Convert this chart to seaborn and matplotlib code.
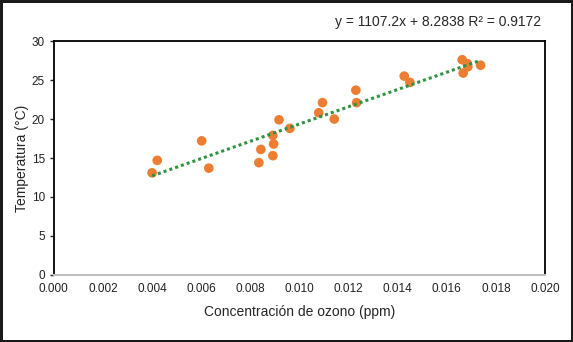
import numpy as np
import pandas as pd
import matplotlib
matplotlib.use("Agg")
import matplotlib.pyplot as plt
import seaborn as sns

# -- datos --
ozono = [0.00400, 0.00421, 0.00602, 0.00631, 0.00835, 0.00843, 0.00892, 0.00895,
         0.00892, 0.00917, 0.00961, 0.01079, 0.01094, 0.01142, 0.01230, 0.01233,
         0.01427, 0.01450, 0.01663, 0.01684, 0.01686, 0.01667, 0.01738]
temperatura = [13.1, 14.7, 17.2, 13.7, 14.4, 16.1, 15.3, 16.8,
               17.9, 19.9, 18.8, 20.8, 22.1, 20.0, 23.7, 22.1,
               25.5, 24.7, 27.6, 27.1, 26.7, 25.9, 26.9]

# coeficientes de la línea de tendencia (del propio gráfico)
pendiente = 1107.2
intercepto = 8.2838
r2 = 0.9172

x_ticks = [0.000, 0.002, 0.004, 0.006, 0.008, 0.010, 0.012, 0.014, 0.016, 0.018, 0.020]
y_ticks = [0, 5, 10, 15, 20, 25, 30]

df = pd.DataFrame({"ozono": ozono, "temp": temperatura})
x_lin = np.array([min(ozono), max(ozono)])
df_lin = pd.DataFrame({"ozono": x_lin, "temp": pendiente * x_lin + intercepto})

sns.set_style("white")
plt.rcParams['font.family'] = ['Liberation Sans', 'DejaVu Sans']

fig = plt.figure(figsize=(5.73, 3.42), dpi=100, edgecolor="#1a1a1a", linewidth=2.5)
ax = fig.add_axes([0.094, 0.196, 0.857, 0.684])

sns.lineplot(data=df_lin, x="ozono", y="temp", ax=ax, color="#2e9440",
             linestyle=(0, (1, 1)), linewidth=2.2, zorder=3)
sns.scatterplot(data=df, x="ozono", y="temp", ax=ax, color="#ed7d31",
                s=48, edgecolor="none", zorder=2)

ax.set_xlim(0, 0.020)
ax.set_ylim(0, 30)
ax.set_xticks(x_ticks)
ax.set_xticklabels([f"{t:.3f}" for t in x_ticks])
ax.set_yticks(y_ticks)
ax.tick_params(axis="x", length=0, labelsize=8.5, pad=6, colors="#222222")
ax.tick_params(axis="y", length=3, width=1, labelsize=8.5, colors="#222222", left=True)

for side in ["left", "top", "right"]:
    ax.spines[side].set_color("black")
    ax.spines[side].set_linewidth(1.3)
ax.spines["bottom"].set_color("#bfbfbf")
ax.spines["bottom"].set_linewidth(1.5)

ax.set_xlabel("Concentración de ozono (ppm)", fontsize=10, labelpad=7)
ax.set_ylabel("Temperatura (°C)", fontsize=10, labelpad=2)

fig.text(0.945, 0.935, f"y = {pendiente}x + {intercepto} R² = {r2}",
         ha="right", va="center", fontsize=10)

plt.savefig("out.png", dpi=100)
